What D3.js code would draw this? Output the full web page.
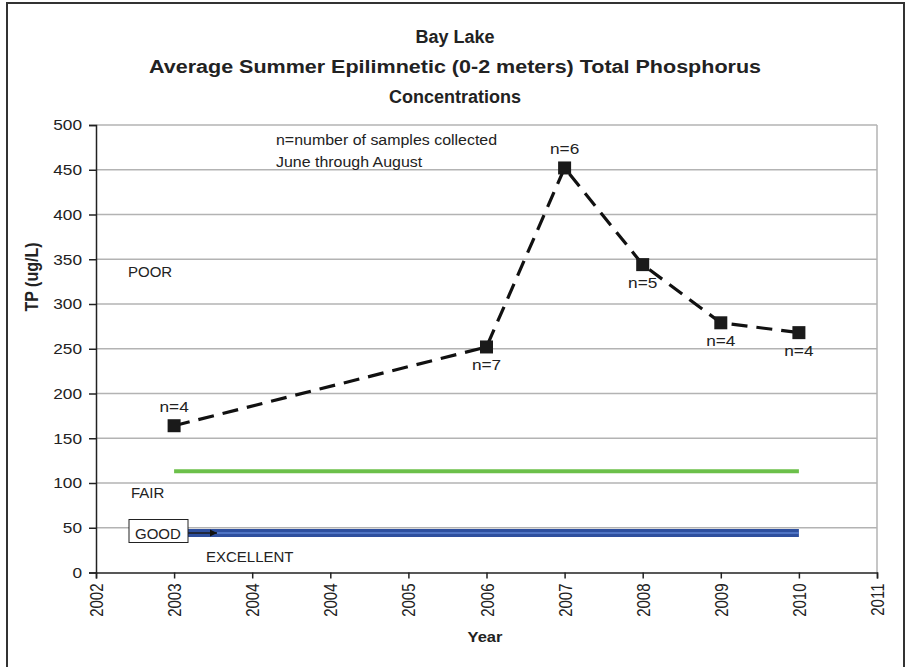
<!DOCTYPE html>
<html>
<head>
<meta charset="utf-8">
<style>
  body { margin: 0; background: #fff; }
  svg { display: block; font-family: "Liberation Sans", Arial, sans-serif; }
</style>
</head>
<body>
<svg width="911" height="667"></svg>
<script src="https://d3js.org/d3.v7.min.js"></script>
<script>

    // axis ticks as Excel labelled them (date axis, "2004" appears twice)
    var tickLabels = ["2002", "2003", "2004", "2004", "2005", "2006", "2007", "2008", "2009", "2010", "2011"];

    // sampled years, where they sit on the tick axis, mean TP and sample counts
    var years = [2003, 2006, 2007, 2008, 2009, 2010];
    var yearPos = [1, 5, 6, 7, 8, 9];
    var tp = [164, 252, 452, 344, 279, 268];
    var nSamples = [4, 7, 6, 5, 4, 4];
    var nAbove = [true, false, true, false, false, false];

    // trophic thresholds drawn across the sampled years
    var fairLine = 113;
    var goodLine = 44;

    var yTicks = d3.range(0, 501, 50);

    var svg = d3.select("svg"),
        width = +svg.attr("width"),
        height = +svg.attr("height");

    var margin = {left: 96, right: 34, top: 125, bottom: 94.5};
    var sx = 1.15;   // the source image's numbers are a little wide

    var x = d3.scaleLinear()
        .domain([0, tickLabels.length - 1])
        .range([margin.left, width - margin.right]);

    var y = d3.scaleLinear()
        .domain([0, 500])
        .range([height - margin.bottom, margin.top]);

    // plain text helper, optionally stretched sideways
    function label(tx, ty, str, size, stretch, anchor, bold) {
        return svg.append("text")
            .attr("transform", "translate(" + tx + "," + ty + ") scale(" + (stretch || 1) + ",1)")
            .attr("text-anchor", anchor || "start")
            .attr("font-size", size)
            .attr("font-weight", bold ? "bold" : null)
            .attr("fill", "#222")
            .text(str);
    }

    // outer frame
    svg.append("rect")
        .attr("x", 7).attr("y", 3)
        .attr("width", 897).attr("height", 680)
        .attr("fill", "none")
        .attr("stroke", "#333")
        .attr("stroke-width", 2);

    // title
    label(455, 43, "Bay Lake", 18, 1, "middle", true);
    label(455, 73, "Average Summer Epilimnetic (0-2 meters) Total Phosphorus", 18, 1, "middle", true)
        .attr("textLength", 612)
        .attr("lengthAdjust", "spacingAndGlyphs");
    label(455, 103, "Concentrations", 18, 1, "middle", true);

    // gridlines
    svg.append("g").selectAll("line")
        .data(yTicks.filter(function(d) { return d > 0; }))
        .enter().append("line")
        .attr("x1", x(0)).attr("x2", x(10))
        .attr("y1", function(d) { return y(d); })
        .attr("y2", function(d) { return y(d); })
        .attr("stroke", "#b3b3b3")
        .attr("stroke-width", 1.5);

    // right edge of plot area
    svg.append("line")
        .attr("x1", x(10)).attr("x2", x(10))
        .attr("y1", y(500)).attr("y2", y(0))
        .attr("stroke", "#b3b3b3")
        .attr("stroke-width", 1.5);

    // y axis
    var yAxis = svg.append("g")
        .attr("transform", "translate(" + x(0) + ",0)")
        .call(d3.axisLeft(y).tickValues(yTicks).tickSize(7).tickPadding(6));
    yAxis.selectAll("path, line").attr("stroke", "#222").attr("stroke-width", 1.5);
    yAxis.selectAll("text")
        .attr("font-size", 15)
        .attr("fill", "#222")
        .attr("font-family", "Liberation Sans, Arial, sans-serif")
        .attr("x", -14 / sx)
        .attr("transform", "scale(" + sx + ",1)");

    // x axis
    var xAxis = svg.append("g")
        .attr("transform", "translate(0," + y(0) + ")")
        .call(d3.axisBottom(x)
            .tickValues(d3.range(tickLabels.length))
            .tickFormat(function(d) { return tickLabels[d]; })
            .tickSize(6));
    xAxis.selectAll("path, line").attr("stroke", "#222").attr("stroke-width", 1.5);
    xAxis.selectAll("text")
        .attr("font-size", 15)
        .attr("fill", "#222")
        .attr("font-family", "Liberation Sans, Arial, sans-serif")
        .attr("text-anchor", "end")
        .attr("dy", "0.35em")
        .attr("transform", "translate(0,5) scale(1.25,1) rotate(-90)")
        .attr("x", -6)
        .attr("y", 0);

    // axis titles
    label(485, 642, "Year", 15, 1.1, "middle", true);
    svg.append("text")
        .attr("transform", "translate(38,277) scale(1.1,1) rotate(-90)")
        .attr("text-anchor", "middle")
        .attr("font-size", 16)
        .attr("font-weight", "bold")
        .attr("fill", "#222")
        .text("TP (ug/L)");

    // threshold lines
    var first = d3.min(yearPos), last = d3.max(yearPos);
    svg.append("line")
        .attr("x1", x(first)).attr("x2", x(last))
        .attr("y1", y(fairLine)).attr("y2", y(fairLine))
        .attr("stroke", "#6cc04a")
        .attr("stroke-width", 4);

    svg.append("line")
        .attr("x1", x(first)).attr("x2", x(last))
        .attr("y1", y(goodLine)).attr("y2", y(goodLine))
        .attr("stroke", "#2e4f9e")
        .attr("stroke-width", 8);
    svg.append("line")
        .attr("x1", x(first)).attr("x2", x(last))
        .attr("y1", y(goodLine)).attr("y2", y(goodLine))
        .attr("stroke", "#4f74c4")
        .attr("stroke-width", 2);

    // category labels
    label(128, 277, "POOR", 15);
    label(131, 498, "FAIR", 15);
    label(206, 562, "EXCELLENT", 15);

    // GOOD box with arrow
    svg.append("defs").append("marker")
        .attr("id", "arrow")
        .attr("viewBox", "0 0 10 10")
        .attr("refX", 10).attr("refY", 5)
        .attr("markerWidth", 5).attr("markerHeight", 5)
        .attr("orient", "auto")
        .append("path")
        .attr("d", "M0,0L10,5L0,10z")
        .attr("fill", "#111");

    svg.append("line")
        .attr("x1", 188).attr("x2", 217)
        .attr("y1", 533).attr("y2", 533)
        .attr("stroke", "#111")
        .attr("stroke-width", 1.5)
        .attr("marker-end", "url(#arrow)");

    svg.append("rect")
        .attr("x", 129).attr("y", 519.5)
        .attr("width", 59).attr("height", 23)
        .attr("fill", "#fff")
        .attr("stroke", "#222")
        .attr("stroke-width", 1);
    label(135, 539, "GOOD", 15);

    // note
    label(276, 145, "n=number of samples collected", 14.5, 1.1);
    label(276, 167, "June through August", 14.5, 1.1);

    // series
    var pts = years.map(function(yr, i) {
        return {year: yr, pos: yearPos[i], v: tp[i], n: nSamples[i], above: nAbove[i]};
    });

    var line = d3.line()
        .x(function(d) { return x(d.pos); })
        .y(function(d) { return y(d.v); });

    svg.append("path")
        .datum(pts)
        .attr("d", line)
        .attr("fill", "none")
        .attr("stroke", "#111")
        .attr("stroke-width", 3.2)
        .attr("stroke-dasharray", "16,9");

    svg.append("g").selectAll("rect")
        .data(pts)
        .enter().append("rect")
        .attr("x", function(d) { return x(d.pos) - 6.5; })
        .attr("y", function(d) { return y(d.v) - 6.5; })
        .attr("width", 13).attr("height", 13)
        .attr("fill", "#1a1a1a");

    pts.forEach(function(d) {
        label(x(d.pos), y(d.v) + (d.above ? -14 : 23), "n=" + d.n, 15, sx, "middle");
    });

</script>
</body>
</html>
